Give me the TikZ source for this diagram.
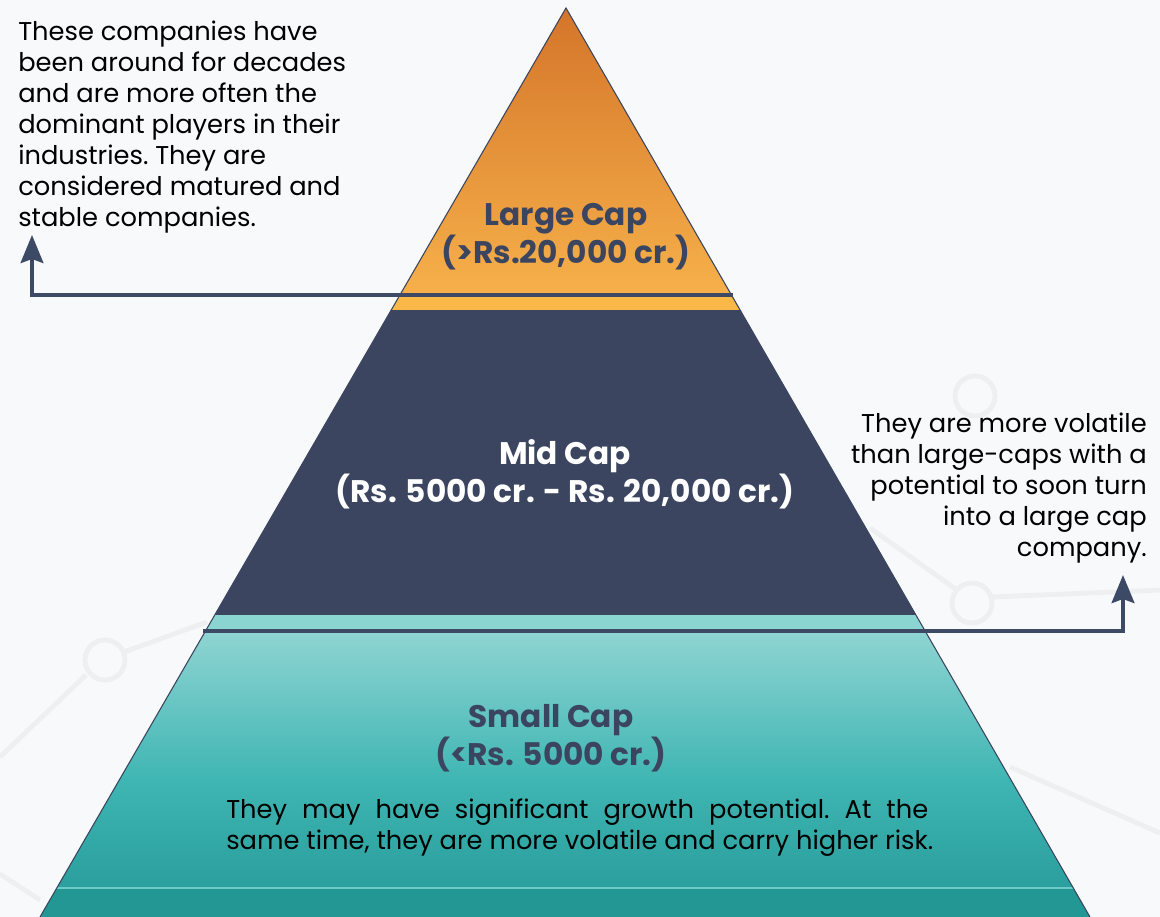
\documentclass[tikz,border=0pt]{standalone}
\usepackage{fontspec}
\setmainfont{Poppins}
\usetikzlibrary{arrows.meta}
\definecolor{navy}{HTML}{3B4560}
\definecolor{conn}{HTML}{3D4A66}
\definecolor{bgc}{HTML}{F8F9FA}
\definecolor{netc}{HTML}{EEEFF1}
\definecolor{orTop}{HTML}{D4752A}
\definecolor{orBot}{HTML}{F6B04A}
\definecolor{orBand}{HTML}{F9B847}
\definecolor{tlBand}{HTML}{8AD4D2}
\definecolor{tlTop}{HTML}{8ED4D2}
\definecolor{tlMid}{HTML}{3FB6B3}
\definecolor{tlBot}{HTML}{2A9F9D}
\definecolor{tlBase}{HTML}{239794}
\definecolor{tlLine}{HTML}{6CCAC7}
\tikzset{
  body/.style={font=\fontsize{19.3}{23.25}\selectfont\frenchspacing, text=black, inner sep=0pt},
  head/.style={font=\fontsize{23.4}{28.5}\selectfont\bfseries, align=center, inner sep=0pt},
  connector/.style={draw=conn, line width=3pt, -{Stealth[length=21pt,width=17pt,inset=3pt]}},
  net/.style={draw=netc, line width=3.6pt},
}
\begin{document}
\begin{tikzpicture}[x=0.75pt,y=-0.75pt]
\useasboundingbox (0,0) rectangle (1160,917);
\fill[bgc] (0,0) rectangle (1160,917);
% faint background network
\draw[net] (0,757) -- (86,675);
\draw[net] (105,660) circle[radius=20];
\draw[net] (124,652) -- (207,622);
\draw[net] (0,874) -- (40,900);
\draw[net] (972,603) circle[radius=20];
\draw[net] (992,597) -- (1160,590);
\draw[net] (957,590) -- (870,528);
\draw[net] (975,396) circle[radius=20];
\draw[net] (1010,767) -- (1160,833);
% pyramid
\coordinate (apex) at (566,8);
\coordinate (bl) at (40,917);
\coordinate (br) at (1090,917);
\begin{scope}
\clip (apex) -- (br) -- (bl) -- cycle;
\shade[top color=orTop, bottom color=orBot] (0,8) rectangle (1160,293);
\fill[orBand] (0,293) rectangle (1160,310);
\fill[navy] (0,310) rectangle (1160,615);
\fill[tlBand] (0,615) rectangle (1160,632);
\shade[top color=tlTop, bottom color=tlMid] (0,632) rectangle (1160,780);
\shade[top color=tlMid, bottom color=tlBot] (0,779.5) rectangle (1160,888);
\fill[tlBase] (0,888) rectangle (1160,917);
\draw[tlLine, line width=1pt] (0,888) -- (1160,888);
\end{scope}
\draw[navy, line width=0.8pt] (bl) -- (apex) -- (br);
% labels in pyramid (base anchor = last line)
\node[head, text=navy, anchor=base] (large) at (566,263) {Large Cap\\(>Rs.20,000 cr.)};
\node[head, text=white, anchor=base] (mid) at (565,502) {Mid Cap\\(Rs. 5000 cr. - Rs. 20,000 cr.)};
\node[head, text=navy, anchor=base] (small) at (551,765) {Small Cap\\(<Rs. 5000 cr.)};
\node[body, anchor=base west, align=left] (smalltxt) at (226,849)
  {\makebox[526.5pt][s]{They may have significant growth potential. At the}\\same time, they are more volatile and carry higher risk.};
% side texts
\node[body, anchor=base west, align=left] (largetxt) at (18,226)
  {These companies have\\been around for decades\\and are more often the\\dominant players in their\\industries. They are\\considered matured and\\stable companies.};
\node[body, anchor=base east, align=right] (midtxt) at (1147,556)
  {They are more volatile\\than large-caps with a\\potential to soon turn\\into a large cap\\company.};
% connectors
\coordinate (lstart) at (733,295);
\coordinate (lend) at (32,235);
\coordinate (mstart) at (203,631);
\coordinate (mend) at (1123,575);
\draw[connector] (lstart) -| (lend);
\draw[connector] (mstart) -| (mend);
\end{tikzpicture}
\end{document}
